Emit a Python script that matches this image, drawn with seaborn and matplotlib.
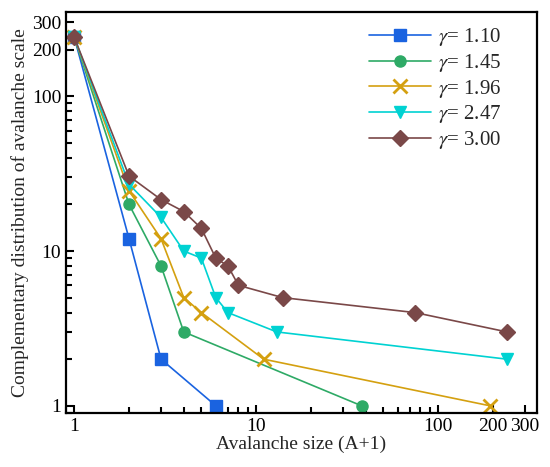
import numpy as np
import pandas as pd
import matplotlib
matplotlib.use("Agg")
import matplotlib.pyplot as plt
import seaborn as sns
from matplotlib.ticker import FixedLocator, FixedFormatter, LogLocator, NullFormatter

# values
gammas = ["1.10", "1.45", "1.96", "2.47", "3.00"]
x_g110 = [1, 2, 3, 6]
y_g110 = [240, 12, 2, 1]
x_g145 = [1, 2, 3, 4, 38]
y_g145 = [240, 20, 8, 3, 1]
x_g196 = [1, 2, 3, 4, 5, 11, 193]
y_g196 = [240, 24.5, 12, 5, 4, 2, 1]
x_g247 = [1, 2, 3, 4, 5, 6, 7, 13, 240]
y_g247 = [240, 27, 16.5, 10, 9, 5, 4, 3, 2]
x_g300 = [1, 2, 3, 4, 5, 6, 7, 8, 14, 75, 240]
y_g300 = [240, 30.5, 21.5, 18, 14, 9, 8, 6, 5, 4, 3]
tick_vals = [1, 10, 100, 200, 300]

colors = ["#1a63e0", "#2eaa66", "#d4a010", "#00d2d2", "#7a4848"]
markers = ["s", "o", "x", "v", "D"]
msizes = [8, 8, 10, 9, 8.5]

xs = [x_g110, x_g145, x_g196, x_g247, x_g300]
ys = [y_g110, y_g145, y_g196, y_g247, y_g300]

sns.set_style("ticks")
plt.rcParams["font.family"] = ["Liberation Serif", "DejaVu Serif"]
plt.rcParams["mathtext.fontset"] = "stix"

fig = plt.figure(figsize=(5.5, 4.67), dpi=100)
ax = fig.add_axes([0.12, 0.116, 0.856, 0.858])

for g, x, y, c, m, s in zip(gammas, xs, ys, colors, markers, msizes):
    df = pd.DataFrame({"size": x, "ccdf": y})
    sns.lineplot(data=df, x="size", y="ccdf", ax=ax, color=c, marker=m,
                 markersize=s, markeredgecolor=c, markeredgewidth=2 if m == "x" else 1,
                 linewidth=1.2, label=r"$\gamma$= " + g)

ax.set_xscale("log")
ax.set_yscale("log")
ax.set_xlim(0.9, 350)
ax.set_ylim(0.9, 350)

for axis in (ax.xaxis, ax.yaxis):
    axis.set_major_locator(FixedLocator(tick_vals))
    axis.set_major_formatter(FixedFormatter([str(v) for v in tick_vals]))
    axis.set_minor_locator(LogLocator(base=10, subs=np.arange(2, 10)))
    axis.set_minor_formatter(NullFormatter())

ax.tick_params(which="both", direction="in", labelsize=14, width=1.5, colors="black")
ax.tick_params(which="major", length=6)
ax.tick_params(which="minor", length=4)
for sp in ax.spines.values():
    sp.set_linewidth(1.6)
    sp.set_color("black")

ax.set_xlabel("Avalanche size (A+1)", fontsize=14, labelpad=1)
ax.set_ylabel("Complementary distribution of avalanche scale", fontsize=14, labelpad=2)

leg = ax.legend(loc="upper right", frameon=False, fontsize=15, handlelength=3.0,
                handletextpad=0.3, labelspacing=0.18, bbox_to_anchor=(0.964, 1.012))

fig.savefig("out.png", dpi=100)
